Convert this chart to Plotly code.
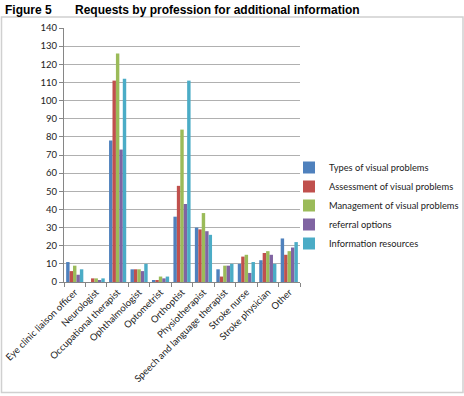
import plotly.graph_objects as go

categories = ["Eye clinic liaison officer", "Neurologist", "Occupational therapist",
              "Ophthalmologist", "Optometrist", "Orthoptist", "Physiotherapist",
              "Speech and language therapist", "Stroke nurse", "Stroke physician", "Other"]

types_of_visual_problems = [11, 0, 78, 7, 1, 36, 30, 7, 10, 12, 24]
assessment_of_visual_problems = [6, 2, 111, 7, 1, 53, 29, 3, 14, 16, 15]
management_of_visual_problems = [9, 2, 126, 7, 3, 84, 38, 9, 15, 17, 17]
referral_options = [4, 1, 73, 6, 2, 43, 28, 9, 5, 15, 19]
information_resources = [7, 2, 112, 10, 3, 111, 26, 10, 11, 10, 22]

series_names = ["Types of visual problems", "Assessment of visual problems",
                "Management of visual problems", "referral options", "Information resources"]
series_values = [types_of_visual_problems, assessment_of_visual_problems,
                 management_of_visual_problems, referral_options, information_resources]
colors = ["#4F81BD", "#C0504D", "#9BBB59", "#8064A2", "#4BACC6"]

y_ticks = list(range(0, 141, 10))

W, H = 464, 396
L, R, T, B = 64, 300, 28, 282  # plot area in pixels


def px_x(x):
    return (x - L) / (R - L)


def px_y(y):
    return (B - y) / (B - T)


fig = go.Figure()
for name, vals, col in zip(series_names, series_values, colors):
    fig.add_trace(go.Bar(x=categories, y=vals, name=name, marker=dict(color=col, line=dict(width=0))))

font_family = "Lato, 'Open Sans', sans-serif"

fig.update_layout(
    width=W, height=H,
    margin=dict(l=L, r=W - R, t=T, b=H - B, pad=0, autoexpand=False),
    paper_bgcolor="white", plot_bgcolor="white",
    barmode="group", bargap=0.2, bargroupgap=0,
    showlegend=True,
    legend=dict(x=px_x(289), y=px_y(153), xanchor="left", yanchor="top",
                font=dict(family=font_family, size=9.3, color="#222"),
                bgcolor="rgba(0,0,0,0)", itemwidth=30, tracegroupgap=0),
    font=dict(family=font_family, size=10, color="#222"),
    xaxis=dict(type="category", tickangle=-45, tickson="boundaries", ticks="outside",
               ticklen=4, tickcolor="#868686", showline=True, linecolor="#868686",
               linewidth=1, showgrid=False, tickfont=dict(family=font_family, size=9.5, color="#222"),
               automargin=False),
    yaxis=dict(range=[0, 140], tickvals=y_ticks, ticktext=[str(v) for v in y_ticks],
               ticks="outside", ticklen=4, tickcolor="#868686", showline=True,
               linecolor="#868686", linewidth=1, showgrid=True, gridcolor="#B0B0B0",
               gridwidth=1, zeroline=False, tickfont=dict(family=font_family, size=9.5, color="#222"),
               automargin=False),
    annotations=[
        dict(text="<b>Figure 5</b>", xref="paper", yref="paper", x=px_x(3), y=px_y(10),
             xanchor="left", yanchor="middle", showarrow=False,
             font=dict(family="Liberation Sans, Arial, sans-serif", size=12, color="#000")),
        dict(text="<b>Requests by profession for additional information</b>", xref="paper",
             yref="paper", x=px_x(73), y=px_y(10), xanchor="left", yanchor="middle",
             showarrow=False,
             font=dict(family="Liberation Sans, Arial, sans-serif", size=12, color="#000")),
    ],
    shapes=[
        dict(type="rect", xref="paper", yref="paper", x0=px_x(1.5), x1=px_x(463), y0=px_y(17),
             y1=px_y(392.5), line=dict(color="#D0D0D0", width=1.5), fillcolor="rgba(0,0,0,0)",
             layer="below"),
    ],
)

fig.write_html("out.html")
